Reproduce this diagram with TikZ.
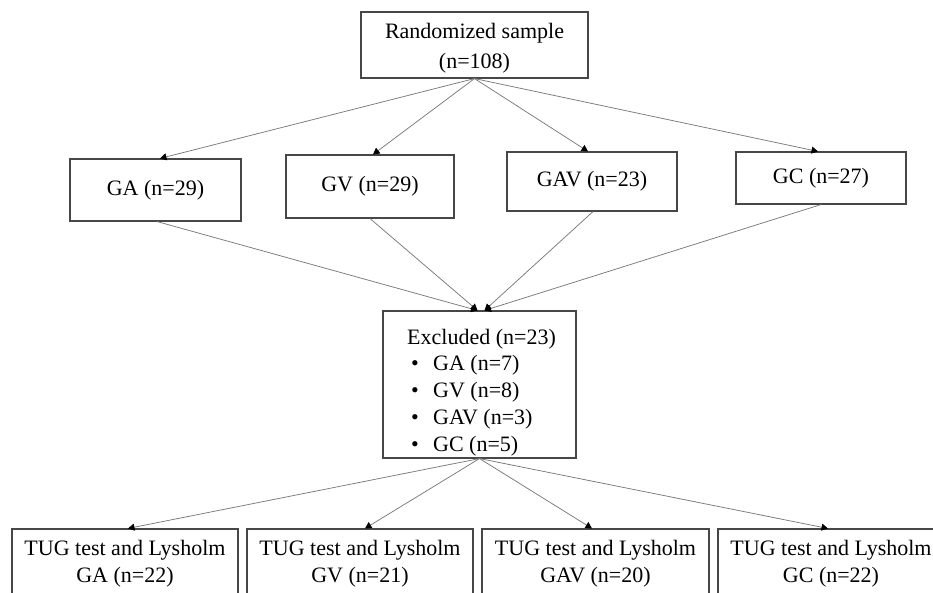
\documentclass[tikz,border=0pt]{standalone}
\usepackage{fontspec}
\setmainfont{Liberation Serif}
\usetikzlibrary{arrows.meta}
\begin{document}
\begin{tikzpicture}[x=1pt,y=-1pt,
 box/.style={draw=black!72, line width=1.1pt, inner sep=0pt, align=center, text=black,
   font=\fontsize{22}{27}\selectfont},
 conn/.style={draw=black!52, line width=0.75pt, -{Triangle[length=6.5pt,width=7pt,color=black]}},
 txt/.style={inner sep=0pt, anchor=base west, text=black, font=\fontsize{22}{27}\selectfont}]
\useasboundingbox (0,0) rectangle (933,592);
% top
\node[box, minimum width=227pt, minimum height=66pt, font=\fontsize{22}{30}\selectfont] (top) at (474.5,45) {\rule{0pt}{21pt}Randomized sample\\(n=108)};
% second row
\node[box, minimum width=171pt, minimum height=62pt] (ga) at (155.5,190) {GA (n=29)};
\node[box, minimum width=168pt, minimum height=63pt] (gv) at (370,186.5) {GV (n=29)};
\node[box, minimum width=170pt, minimum height=59pt] (gav) at (592,181.5) {GAV (n=23)};
\node[box, minimum width=170pt, minimum height=52pt] (gc) at (821,178) {GC (n=27)};
% excluded
\node[box, minimum width=193pt, minimum height=147pt] (excl) at (479.5,384.5) {};
\node[txt] (ex0) at (407,344) {Excluded (n=23)};
\node[txt] (ex1) at (411,370.8) {\makebox[22pt][l]{\textbullet}GA (n=7)};
\node[txt] (ex2) at (411,397.6) {\makebox[22pt][l]{\textbullet}GV (n=8)};
\node[txt] (ex3) at (411,424.4) {\makebox[22pt][l]{\textbullet}GAV (n=3)};
\node[txt] (ex4) at (411,451.2) {\makebox[22pt][l]{\textbullet}GC (n=5)};
% bottom row
\node[box, minimum width=226pt, minimum height=69pt] (b1) at (125,563.5) {TUG test and Lysholm\\GA (n=22)};
\node[box, minimum width=226pt, minimum height=69pt] (b2) at (360,563.5) {TUG test and Lysholm\\GV (n=21)};
\node[box, minimum width=227pt, minimum height=69pt] (b3) at (595.5,563.5) {TUG test and Lysholm\\GAV (n=20)};
\node[box, minimum width=226pt, minimum height=69pt] (b4) at (831,563.5) {TUG test and Lysholm\\GC (n=22)};
% connectors top -> row 2
\draw[conn] (top.south) -- ([xshift=4.5pt]ga.north);
\draw[conn] (top.south) -- ([xshift=3pt]gv.north);
\draw[conn] (top.south) -- ([xshift=-4pt]gav.north);
\draw[conn] (top.south) -- ([xshift=-3pt]gc.north);
% row 2 -> excluded
\draw[conn] ([xshift=1.5pt]ga.south) -- ([xshift=-2pt]excl.north);
\draw[conn] (gv.south) -- ([xshift=-2pt]excl.north);
\draw[conn] ([xshift=1pt]gav.south) -- ([xshift=5pt]excl.north);
\draw[conn] (gc.south) -- ([xshift=5pt]excl.north);
% excluded -> bottom
\draw[conn] (excl.south) -- ([xshift=3pt]b1.north);
\draw[conn] (excl.south) -- ([xshift=5pt]b2.north);
\draw[conn] (excl.south) -- ([xshift=-3.5pt]b3.north);
\draw[conn] (excl.south) -- ([xshift=-3pt]b4.north);
\end{tikzpicture}
\end{document}
